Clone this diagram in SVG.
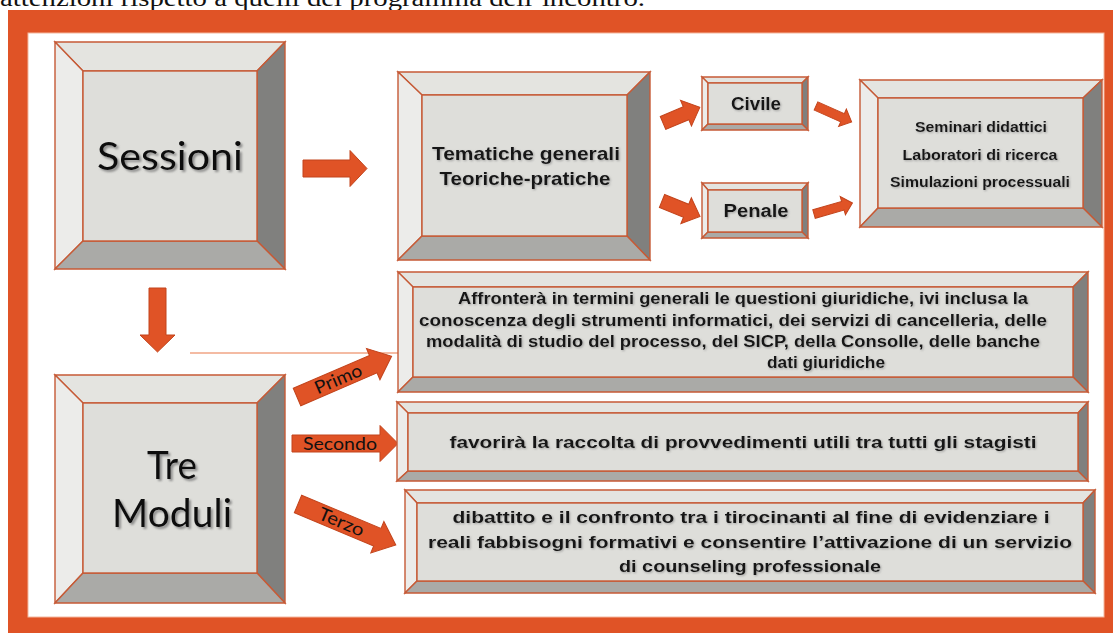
<svg xmlns="http://www.w3.org/2000/svg" width="1113" height="633" viewBox="0 0 1113 633">
<defs>
<style>
.top{fill:#e4e4e0;stroke:#c65a36;stroke-width:1.4}
.lft{fill:#ececea;stroke:#c65a36;stroke-width:1.4}
.rgt{fill:#80807e;stroke:#c65a36;stroke-width:1.4}
.bot{fill:#aaaaa7;stroke:#c65a36;stroke-width:1.4}
.face{fill:#dededa;stroke:#c65a36;stroke-width:1.4}
.arr{fill:#e05326;stroke:#c2441c;stroke-width:1}
.big{font-family:Lato,"Open Sans",sans-serif;fill:#0a0a0a;text-anchor:middle;filter:url(#sh)}
.fut{font-family:"Liberation Sans",Arial,sans-serif;font-weight:bold;fill:#141414;text-anchor:middle;filter:url(#sh2)}
.lbl{font-family:Lato,"Open Sans",sans-serif;fill:#111;text-anchor:middle}
</style>
<filter id="sh" x="-10%" y="-20%" width="130%" height="150%">
<feDropShadow dx="2" dy="2" stdDeviation="1.2" flood-color="#777" flood-opacity="0.8"/>
</filter>
<filter id="sh2" x="-5%" y="-20%" width="110%" height="150%">
<feDropShadow dx="1" dy="1" stdDeviation="0.8" flood-color="#888" flood-opacity="0.7"/>
</filter>
</defs>
<rect width="1113" height="633" fill="#fff"/>
<text x="0" y="6" font-family="Liberation Serif,serif" font-size="24" fill="#111" textLength="645" lengthAdjust="spacingAndGlyphs">attenzioni rispetto a quelli del programma dell’incontro.</text>
<rect x="8" y="10" width="1105" height="623" fill="#e05326"/>
<rect x="28" y="33" width="1076" height="584" fill="#fff" stroke="#f3b79e" stroke-width="1"/>

<g id="connectors">
<line x1="190" y1="353" x2="398" y2="353" stroke="#f0a585" stroke-width="1.5"/>
<polygon class="arr" transform="translate(303,168.5)" points="0,-8.5 47,-8.5 47,-18 64,0 47,18 47,8.5 0,8.5"/>
<polygon class="arr" transform="translate(157.5,288) rotate(90)" points="0,-8.5 47,-8.5 47,-17.5 64,0 47,17.5 47,8.5 0,8.5"/>
<polygon class="arr" transform="translate(663,123) rotate(-23)" points="0,-7 25,-7 25,-14 40,0 25,14 25,7 0,7"/>
<polygon class="arr" transform="translate(662,201) rotate(22)" points="0,-7 26,-7 26,-14 41,0 26,14 26,7 0,7"/>
<polygon class="arr" transform="translate(816,106) rotate(24)" points="0,-4.5 29,-4.5 29,-9.5 39,0 29,9.5 29,4.5 0,4.5"/>
<polygon class="arr" transform="translate(814,214) rotate(-16)" points="0,-4.5 30,-4.5 30,-9.5 40,0 30,9.5 30,4.5 0,4.5"/>
<g transform="translate(297,397) rotate(-23.3)">
<polygon class="arr" points="0,-9.5 83,-9.5 83,-17 103,0 83,17 83,9.5 0,9.5"/>
<text class="lbl" x="45" y="6" font-size="18" textLength="50" lengthAdjust="spacingAndGlyphs">Primo</text>
</g>
<g transform="translate(292,443.5)">
<polygon class="arr" points="0,-8.5 88,-8.5 88,-18 106,0 88,18 88,8.5 0,8.5"/>
<text class="lbl" x="48" y="6" font-size="18" textLength="74" lengthAdjust="spacingAndGlyphs">Secondo</text>
</g>
<g transform="translate(298,504) rotate(22.7)">
<polygon class="arr" points="0,-9.5 86,-9.5 86,-17 106,0 86,17 86,9.5 0,9.5"/>
<text class="lbl" x="47" y="6" font-size="18" textLength="48" lengthAdjust="spacingAndGlyphs">Terzo</text>
</g>
</g>

<g id="sessioni">
<polygon class="top" points="55,42 285,42 257,71 83,71"/>
<polygon class="lft" points="55,42 83,71 83,241 55,269"/>
<polygon class="rgt" points="285,42 285,269 257,241 257,71"/>
<polygon class="bot" points="55,269 83,241 257,241 285,269"/>
<rect class="face" x="83" y="71" width="174" height="170"/>
<text class="big" x="170" y="170" font-size="38" textLength="146" lengthAdjust="spacingAndGlyphs">Sessioni</text>
</g>

<g id="tre-moduli">
<polygon class="top" points="55,375 285,375 257,403 83,403"/>
<polygon class="lft" points="55,375 83,403 83,573 55,603"/>
<polygon class="rgt" points="285,375 285,603 257,573 257,403"/>
<polygon class="bot" points="55,603 83,573 257,573 285,603"/>
<rect class="face" x="83" y="403" width="174" height="170"/>
<text class="big" x="172" y="479" font-size="38" textLength="50" lengthAdjust="spacingAndGlyphs">Tre</text>
<text class="big" x="172" y="527" font-size="38" textLength="120" lengthAdjust="spacingAndGlyphs">Moduli</text>
</g>

<g id="tematiche">
<polygon class="top" points="398,72 650,72 627,95 422,95"/>
<polygon class="lft" points="398,72 422,95 422,236 398,260"/>
<polygon class="rgt" points="650,72 650,260 627,236 627,95"/>
<polygon class="bot" points="398,260 422,236 627,236 650,260"/>
<rect class="face" x="422" y="95" width="205" height="141"/>
<text class="fut" x="526" y="160" font-size="19" textLength="188" lengthAdjust="spacingAndGlyphs">Tematiche generali</text>
<text class="fut" x="525" y="185" font-size="19" textLength="171" lengthAdjust="spacingAndGlyphs">Teoriche-pratiche</text>
</g>

<g id="civile">
<polygon class="top" points="702,77 808,77 802,83 708,83"/>
<polygon class="lft" points="702,77 708,83 708,124 702,130"/>
<polygon class="rgt" points="808,77 808,130 802,124 802,83"/>
<polygon class="bot" points="702,130 708,124 802,124 808,130"/>
<rect class="face" x="708" y="83" width="94" height="41"/>
<text class="fut" x="756" y="110" font-size="18" textLength="50" lengthAdjust="spacingAndGlyphs">Civile</text>
</g>

<g id="penale">
<polygon class="top" points="702,183 808,183 802,190 708,190"/>
<polygon class="lft" points="702,183 708,190 708,232 702,238"/>
<polygon class="rgt" points="808,183 808,238 802,232 802,190"/>
<polygon class="bot" points="702,238 708,232 802,232 808,238"/>
<rect class="face" x="708" y="190" width="94" height="42"/>
<text class="fut" x="756" y="217" font-size="18" textLength="65" lengthAdjust="spacingAndGlyphs">Penale</text>
</g>

<g id="seminari">
<polygon class="top" points="860,80 1102,80 1083,98 878,98"/>
<polygon class="lft" points="860,80 878,98 878,208 860,227"/>
<polygon class="rgt" points="1102,80 1102,227 1083,208 1083,98"/>
<polygon class="bot" points="860,227 878,208 1083,208 1102,227"/>
<rect class="face" x="878" y="98" width="205" height="110"/>
<text class="fut" x="981" y="132" font-size="14" textLength="132" lengthAdjust="spacingAndGlyphs">Seminari didattici</text>
<text class="fut" x="980" y="160" font-size="14" textLength="155" lengthAdjust="spacingAndGlyphs">Laboratori di ricerca</text>
<text class="fut" x="980" y="187" font-size="14" textLength="180" lengthAdjust="spacingAndGlyphs">Simulazioni processuali</text>
</g>

<g id="primo-modulo">
<polygon class="top" points="398,272 1088,272 1073,287 413,287"/>
<polygon class="lft" points="398,272 413,287 413,377 398,392"/>
<polygon class="rgt" points="1088,272 1088,392 1073,377 1073,287"/>
<polygon class="bot" points="398,392 413,377 1073,377 1088,392"/>
<rect class="face" x="413" y="287" width="660" height="90"/>
<text class="fut" x="743" y="304" font-size="16" textLength="570" lengthAdjust="spacingAndGlyphs">Affronterà in termini generali le questioni giuridiche, ivi inclusa la</text>
<text class="fut" x="733" y="326" font-size="16" textLength="628" lengthAdjust="spacingAndGlyphs">conoscenza degli strumenti informatici, dei servizi di cancelleria, delle</text>
<text class="fut" x="733" y="347" font-size="16" textLength="614" lengthAdjust="spacingAndGlyphs">modalità di studio del processo, del SICP, della Consolle, delle banche</text>
<text class="fut" x="826" y="368" font-size="16" textLength="118" lengthAdjust="spacingAndGlyphs">dati giuridiche</text>
</g>

<g id="secondo-modulo">
<polygon class="top" points="397,402 1088,402 1078,413 408,413"/>
<polygon class="lft" points="397,402 408,413 408,471 397,481"/>
<polygon class="rgt" points="1088,402 1088,481 1078,471 1078,413"/>
<polygon class="bot" points="397,481 408,471 1078,471 1088,481"/>
<rect class="face" x="408" y="413" width="670" height="58"/>
<text class="fut" x="743" y="448" font-size="17" textLength="587" lengthAdjust="spacingAndGlyphs">favorirà la raccolta di provvedimenti utili tra tutti gli stagisti</text>
</g>

<g id="terzo-modulo">
<polygon class="top" points="405,490 1095,490 1083,503 417,503"/>
<polygon class="lft" points="405,490 417,503 417,581 405,593"/>
<polygon class="rgt" points="1095,490 1095,593 1083,581 1083,503"/>
<polygon class="bot" points="405,593 417,581 1083,581 1095,593"/>
<rect class="face" x="417" y="503" width="666" height="78"/>
<text class="fut" x="751" y="523" font-size="17" textLength="597" lengthAdjust="spacingAndGlyphs">dibattito e il confronto tra i tirocinanti al fine di evidenziare i</text>
<text class="fut" x="750" y="548" font-size="17" textLength="644" lengthAdjust="spacingAndGlyphs">reali fabbisogni formativi e consentire l’attivazione di un servizio</text>
<text class="fut" x="750" y="572" font-size="17" textLength="262" lengthAdjust="spacingAndGlyphs">di counseling professionale</text>
</g>
</svg>
